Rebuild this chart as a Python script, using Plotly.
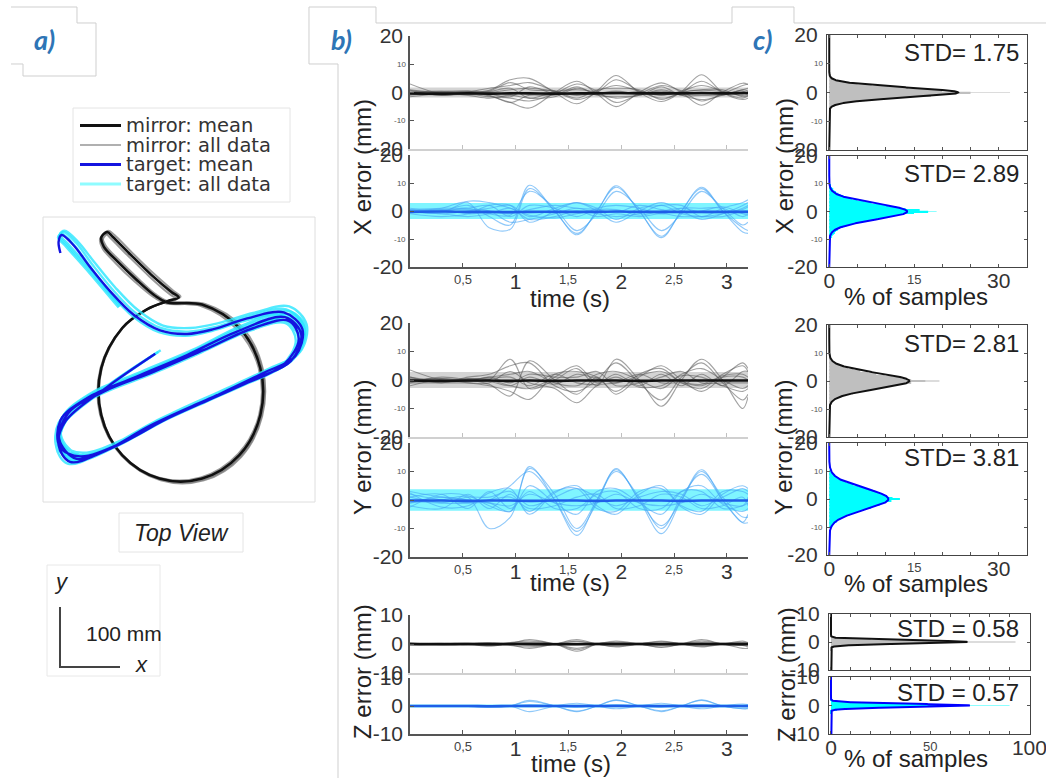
import numpy as np
import plotly.graph_objects as go

FIG_W, FIG_H = 1046, 778
FONT = "Liberation Sans, Arial, sans-serif"
LEGEND_FONT = "DejaVu Sans, Verdana, sans-serif"
TAG_FONT = "Lato, Liberation Sans, sans-serif"
TAG_COLOR = "#2e75b6"
FRAME_GREY = "#cfcfcf"

# ---------------- panel a: top-view hand paths (mm) ----------------
MIRROR_MEAN_X = [107, 97, 101, 124, 156, 185, 206, 265, 327, 362, 362, 327, 265, 194, 132, 97, 97, 132, 173, 208, 226, 214, 180, 143, 116, 107]
MIRROR_MEAN_Y = [450, 441, 426, 401, 370, 345, 333, 329, 290, 223, 145, 78, 39, 39, 78, 145, 223, 290, 321, 335, 341, 350, 379, 415, 442, 450]
MIRROR_TRIALS_X = [
    [109, 99, 104, 128, 160, 188, 210, 270, 332, 366, 365, 330, 268, 196, 133, 98, 98, 133, 175, 211, 229, 217, 183, 146, 119, 109],
    [104, 95, 99, 121, 153, 182, 204, 262, 323, 359, 360, 325, 263, 192, 130, 95, 96, 131, 171, 204, 222, 210, 177, 140, 113, 104],
    [110, 100, 102, 126, 158, 186, 207, 267, 329, 365, 364, 329, 266, 195, 131, 96, 97, 132, 172, 207, 225, 213, 181, 144, 117, 110],
]
MIRROR_TRIALS_Y = [
    [452, 444, 428, 402, 371, 346, 334, 330, 291, 222, 143, 75, 36, 36, 76, 144, 223, 291, 322, 336, 342, 352, 382, 418, 445, 452],
    [447, 438, 423, 398, 367, 343, 331, 327, 288, 224, 146, 80, 41, 41, 80, 146, 224, 289, 320, 333, 338, 347, 376, 412, 439, 447],
    [448, 439, 424, 399, 369, 344, 332, 327, 289, 222, 144, 76, 37, 38, 77, 145, 222, 289, 320, 334, 340, 349, 378, 414, 441, 448],
]
TARGET_MEAN_X = [29, 26, 31, 51, 78, 112, 151, 195, 240, 284, 340, 401, 432, 420, 367, 290, 212, 134, 62, 28,
                 29, 73, 156, 240, 323, 403, 430, 413, 356, 278, 201, 123, 56, 27, 42, 101, 184, 267, 351, 409,
                 426, 401, 334, 256, 178, 101, 45, 26, 37, 106, 187]
TARGET_MEAN_Y = [415, 434, 445, 428, 392, 351, 312, 286, 280, 288, 306, 316, 288, 243, 215, 178, 142, 100, 76, 92,
                 136, 173, 209, 245, 284, 308, 280, 235, 206, 171, 136, 94, 72, 105, 148, 184, 217, 253, 290, 302,
                 272, 229, 196, 163, 127, 84, 67, 95, 134, 191, 247]
TARGET_TRIALS_X = [
    [128, 80, 40, 27, 34, 55, 82, 115, 153, 196, 242, 288, 345, 405, 435, 424, 370, 292, 214, 136, 64, 30, 31, 76, 160, 244,
     327, 406, 434, 417, 359, 281, 203, 125, 58, 29, 44, 104, 188, 271, 355, 413, 431, 405, 337, 259, 180, 103, 47, 28, 40, 110, 192],
    [126, 78, 38, 25, 31, 52, 80, 112, 150, 193, 237, 281, 336, 396, 427, 415, 363, 286, 208, 130, 58, 24, 26, 70, 152, 236,
     318, 398, 425, 408, 352, 274, 197, 119, 52, 23, 38, 97, 180, 263, 346, 404, 421, 397, 330, 252, 174, 97, 41, 22, 34, 102, 183],
    [130, 82, 42, 28, 36, 58, 86, 120, 158, 200, 246, 292, 350, 410, 439, 428, 374, 296, 217, 139, 66, 31, 33, 79, 163, 248,
     331, 410, 438, 421, 362, 284, 206, 128, 61, 30, 46, 107, 191, 275, 359, 417, 435, 409, 341, 263, 184, 106, 50, 29, 42, 113, 196],
]
TARGET_TRIALS_Y = [
    [326, 383, 428, 443, 450, 432, 396, 355, 316, 290, 284, 292, 310, 321, 292, 246, 217, 180, 144, 102, 78, 94, 139, 177, 213, 249,
     289, 313, 285, 238, 208, 173, 138, 96, 74, 108, 152, 188, 221, 257, 294, 307, 276, 232, 198, 165, 129, 86, 69, 98, 138, 195, 250],
    [324, 381, 426, 441, 447, 428, 390, 348, 309, 283, 277, 285, 302, 312, 284, 239, 211, 175, 139, 97, 73, 89, 132, 169, 205, 241,
     280, 304, 276, 232, 203, 168, 133, 91, 69, 102, 144, 180, 213, 249, 286, 298, 269, 226, 193, 160, 124, 81, 64, 92, 130, 187, 244],
    [328, 385, 430, 446, 452, 434, 399, 358, 320, 294, 290, 298, 315, 326, 296, 250, 221, 185, 149, 107, 82, 97, 142, 181, 217, 253,
     294, 318, 290, 243, 212, 177, 142, 100, 78, 111, 156, 192, 225, 261, 298, 312, 281, 236, 202, 169, 133, 90, 73, 101, 141, 198, 253],
]

# ---------------- panel b: error vs time (mm) ----------------
T_KNOTS = [0, 0.3, 0.55, 0.75, 0.95, 1.13, 1.37, 1.58, 1.77, 1.95, 2.17, 2.38, 2.57, 2.76, 2.96, 3.15, 3.2]
T_END = 3.2

X_MIRROR_TRIALS = [
    [3.0, -0.5, 0.0, 0.8, 4.5, 5.0, 0.0, -4.0, 0.5, 6.0, 0.0, -3.2, 0.3, 6.3, 0.0, -2.5, -2.0],
    [-1.0, 0.3, 0.5, -1.2, -3.5, -5.5, 0.0, 4.0, -0.5, -5.0, 0.0, 3.4, 0.0, -4.5, 0.2, 3.3, 2.8],
    [0.8, -1.0, 0.2, 1.5, 2.5, 3.5, 0.5, -2.5, 0.0, 4.5, 0.5, -2.0, 0.0, 4.0, 0.0, -2.0, -1.2],
    [-0.5, -0.8, -0.6, -1.5, -2.0, -3.0, -0.5, 3.0, 0.5, -3.5, -0.5, 2.5, 0.5, -3.0, -0.5, 2.5, 3.0],
    [0.0, 0.5, 0.0, 0.0, 1.0, 1.5, 0.5, -1.0, 0.5, 2.5, 0.5, -1.0, 0.5, 2.5, 0.5, -1.0, -0.5],
    [-1.5, -0.5, -1.0, -2.0, -1.0, -2.0, -1.5, 1.5, -0.5, -2.0, -1.0, 1.0, -1.0, -2.5, -1.0, 1.0, 1.5],
    [1.0, 0.0, 0.5, 0.5, 3.5, 1.0, 0.5, -2.0, 1.0, 1.5, 1.0, -2.5, 0.0, 1.0, 1.0, -1.5, -1.0],
    [0.0, -1.0, -0.5, -1.0, -3.5, -1.0, -1.0, 2.0, -1.0, -1.5, -1.0, 2.0, -1.0, -1.0, -1.0, 1.0, 0.5],
    [0.5, 0.2, -0.3, 0.3, 1.5, -2.0, 0.3, 1.0, 0.2, -0.5, 0.3, -0.8, 0.2, 0.8, 0.3, -0.5, 0.2],
    [-0.3, -0.5, 0.3, -0.5, -1.5, 2.0, -0.5, -0.5, -0.3, 0.5, -0.5, 0.5, -0.5, -0.5, -0.5, 0.5, -0.5],
]
X_MIRROR_MEAN = [-0.3, -0.4, -0.3, -0.4, -0.3, -0.3, -0.4, -0.3, -0.3, -0.2, -0.3, -0.3, -0.3, -0.2, -0.3, -0.2, -0.2]

X_TARGET_TRIALS = [
    [0.5, 0.0, 2.0, -2.0, -5.0, 9.2, 0.0, -8.0, 0.0, 9.0, 0.0, -9.0, 0.0, 8.5, 0.0, -7.5, -8.0],
    [0.0, 1.0, 3.0, -6.0, -6.5, 8.0, 0.0, -8.5, 0.0, 8.5, 0.0, -9.5, 0.0, 8.0, 0.0, -6.0, -7.0],
    [1.0, 0.0, 1.0, -1.0, -1.5, 7.0, 1.0, -7.0, -1.0, 7.0, 1.0, -7.0, -1.0, 7.0, 1.0, -5.0, -4.0],
    [-1.0, -2.0, -1.0, 2.0, 2.0, -4.0, 0.0, 3.0, 0.0, -4.0, 0.0, 3.0, 0.0, -3.0, -1.0, 2.0, 3.0],
    [0.0, -1.0, 0.0, 1.0, 2.0, -2.0, 1.0, 3.0, 1.0, -3.0, 1.0, 2.0, 2.0, -2.0, 1.0, 3.0, 4.0],
    [0.0, 0.5, 0.5, 0.0, -4.0, -3.0, -1.0, 1.0, -1.0, -2.0, -1.0, 2.0, -1.0, -2.0, -1.0, 1.0, 2.0],
    [-0.5, -1.0, -2.0, -1.0, 1.0, -3.0, -2.0, 0.0, -2.0, -1.0, -2.0, -1.0, -2.0, -2.0, -2.0, 0.0, 0.0],
    [0.5, 1.0, 1.0, 2.0, -2.0, 2.0, 1.0, -2.0, 1.0, 2.0, 1.0, -1.0, 1.0, 1.0, 1.0, -2.0, -1.0],
    [0.0, -0.5, 3.5, 3.0, 1.0, -1.5, -2.5, -1.0, 0.5, 0.5, -1.5, 0.0, 1.0, -0.5, -0.5, 0.5, 1.5],
    [-0.5, 0.5, -1.0, -0.5, -1.0, 0.5, 2.0, 1.0, 0.5, -0.5, 2.0, 0.5, -0.5, 0.0, 1.5, -1.0, -1.5],
]
X_TARGET_MEAN = [-0.3, -0.2, -0.3, -0.3, -0.4, -0.3, -0.3, -0.3, -0.3, -0.2, -0.3, -0.3, -0.3, -0.3, -0.3, -0.3, -0.3]

Y_MIRROR_TRIALS = [
    [3.5, 0.0, 0.0, 0.0, 7.3, -3.0, 0.0, 4.0, -2.0, 7.3, 0.0, -9.2, 0.0, 7.3, 0.0, -10.0, -6.0],
    [-1.0, 1.0, 0.0, -1.5, -5.6, 6.7, 0.0, -5.0, 1.0, -5.0, 1.0, 5.0, 0.0, -4.0, 1.0, 6.0, 4.0],
    [1.0, -1.0, 1.0, 2.0, 5.0, 6.0, -2.0, -4.0, 0.0, 6.0, -1.0, -7.0, 1.0, 6.0, -1.0, -7.0, -5.0],
    [-2.0, 0.0, -1.0, -2.0, -4.0, -6.8, 2.0, 3.0, 1.0, -4.0, 2.0, 4.0, -1.0, -3.0, 2.0, 5.0, 3.0],
    [0.0, 0.5, 0.0, 1.0, 2.0, 3.0, -1.0, -2.0, 2.0, 3.0, 0.0, -3.0, 2.0, 4.0, 0.0, -3.0, -2.0],
    [1.0, -0.5, 0.5, 0.0, -2.0, -3.0, 1.0, 5.0, -1.0, 2.0, -2.0, 2.0, -2.0, 2.0, -2.0, 3.0, 3.0],
    [-1.0, -1.0, -1.0, -1.0, 3.0, -1.0, -3.0, -8.0, -2.0, -1.0, 2.0, -1.0, -1.0, -2.0, 1.0, 1.0, 0.0],
    [0.0, 0.0, -0.5, 1.0, -1.0, 2.0, 1.0, 1.0, 3.0, -2.0, -1.0, 1.0, 3.0, -1.0, -1.0, -1.0, -1.0],
    [0.5, -0.5, 0.5, 0.5, 1.0, -2.0, 2.0, -1.0, -1.5, 1.0, -2.5, -2.0, 1.5, 1.0, -2.0, -4.0, -3.0],
    [-0.5, 0.5, -0.5, -0.5, -2.0, 1.0, -1.5, 2.0, 0.5, -1.0, 1.5, 3.0, -0.5, -1.5, 1.5, 2.0, 1.0],
]
Y_MIRROR_MEAN = [-0.2, -0.3, -0.2, -0.2, -0.3, -0.2, -0.3, -0.2, -0.2, -0.2, -0.3, -0.2, -0.2, -0.2, -0.2, -0.2, -0.2]

Y_TARGET_TRIALS = [
    [2.0, 0.0, -1.0, -1.0, -4.0, 11.7, 0.0, -12.4, 0.0, 10.6, 0.0, -11.8, 0.0, 10.6, 0.0, -7.8, -5.0],
    [-1.0, 0.0, 1.0, -10.0, -6.0, 11.0, 2.0, -10.0, 0.0, 10.0, 1.0, -10.0, 1.0, 9.0, 0.0, -8.0, -8.0],
    [3.0, 1.0, 0.0, 0.0, 5.0, 10.0, 0.0, -11.0, -1.0, 11.0, 0.0, -9.0, 0.0, 10.0, 1.0, -6.0, -6.0],
    [-2.0, -3.0, 2.0, -3.0, 2.0, -4.0, 3.0, 4.0, -3.0, -4.0, 3.0, 4.0, -2.0, -4.0, 3.0, 3.0, 2.0],
    [1.0, 2.0, -3.0, 3.0, -3.0, 3.0, -3.0, -3.0, 2.0, 3.0, -3.0, -3.0, 3.0, 3.0, -3.0, -2.0, -1.0],
    [0.0, -1.0, 1.0, 1.0, 3.0, -2.0, 1.0, 4.0, 1.0, -2.0, 1.0, 3.0, 2.0, -2.0, 1.0, 4.0, 3.0],
    [-1.0, 1.0, 0.0, -1.0, -2.0, 2.0, -1.0, -2.0, -1.0, 2.0, -1.0, -2.0, -1.0, 2.0, -1.0, -2.0, 1.0],
    [1.0, -1.0, -1.0, 0.0, 1.0, -3.0, -2.0, 1.0, 2.0, -3.0, -2.0, 2.0, 1.0, -3.0, -2.0, 1.0, -2.0],
    [-2.5, 2.0, 1.5, -2.0, -4.0, 5.0, -1.0, -5.0, 3.0, 4.0, -1.0, -5.0, 3.0, 5.0, -1.5, -4.0, -3.0],
    [2.5, -2.5, -2.0, 2.5, 4.0, -5.0, 2.5, 5.0, -2.0, -5.0, 2.0, 5.0, -2.5, -5.0, 2.0, 5.0, 4.0],
]
Y_TARGET_MEAN = [-0.2, -0.2, -0.3, -0.2, -0.2, -0.3, -0.2, -0.2, -0.3, -0.2, -0.2, -0.2, -0.3, -0.2, -0.2, -0.2, -0.2]

Z_MIRROR_TRIALS = [
    [0.3, 0.0, 0.0, -0.5, 0.2, 1.5, 0.0, -1.5, 0.0, 1.0, 0.0, -1.2, 0.0, 1.5, 0.0, -0.5, -1.0],
    [0.0, 0.3, -0.3, 0.3, -0.5, -1.0, 0.0, 1.5, 0.0, -0.8, 0.0, 0.8, 0.0, -0.8, 0.0, 0.5, 0.5],
    [-0.3, 0.0, 0.2, -0.5, 0.5, 1.0, 0.0, -2.5, 0.0, 0.6, 0.0, -1.0, 0.0, 1.0, 0.0, -1.5, -1.5],
    [0.2, -0.2, 0.0, 0.5, -0.3, -1.5, 0.0, 1.0, 0.0, -1.0, 0.0, 1.0, 0.0, -1.0, 0.0, 1.0, 0.5],
    [0.0, 0.0, 0.0, -0.8, 0.3, 0.5, 0.0, -2.0, 0.0, 0.3, 0.0, -0.4, 0.0, 0.5, 0.0, -0.3, -0.2],
    [0.0, 0.0, 0.0, 0.3, 0.0, -0.5, 0.0, 0.8, 0.0, -0.5, 0.0, 0.5, 0.0, -0.5, 0.0, 0.5, 0.3],
]
Z_MIRROR_MEAN = [0.0, -0.1, 0.0, -0.1, 0.0, 0.0, -0.1, -0.1, 0.0, 0.0, 0.0, -0.1, 0.0, 0.0, 0.0, -0.1, -0.1]

Z_TARGET_TRIALS = [
    [0.0, 0.0, 0.0, -0.3, 0.0, 2.0, 0.0, -2.0, 0.0, 2.0, 0.0, -2.0, 0.0, 2.0, 0.0, -1.0, -1.0],
    [0.0, 0.0, 0.0, -0.5, 0.0, 1.6, 0.0, -1.8, 0.0, 2.2, 0.0, -1.7, 0.0, 2.2, 0.0, -1.0, -0.8],
    [0.0, 0.0, 0.0, 0.0, 0.0, -2.0, 0.0, 1.0, 0.0, -1.0, 0.0, 1.0, 0.0, -1.0, 0.0, 0.7, 0.5],
    [0.0, 0.0, 0.0, 0.0, 0.0, 0.5, 0.0, -0.5, 0.0, 0.5, 0.0, -0.5, 0.0, 0.5, 0.0, -0.3, -0.3],
]
Z_TARGET_MEAN = [0.0, 0.0, 0.0, -0.1, 0.0, 0.0, 0.0, 0.0, 0.0, 0.0, 0.0, 0.0, 0.0, 0.0, 0.0, 0.0, 0.0]

# ---------------- panel c: error distributions (% of samples) ----------------
STD_X_MIRROR, STD_X_TARGET = 1.75, 2.89
STD_Y_MIRROR, STD_Y_TARGET = 2.81, 3.81
STD_Z_MIRROR, STD_Z_TARGET = 0.58, 0.57

XY_BIN_WIDTH, Z_BIN_WIDTH = 0.5, 0.25
XY_BINS = np.round(np.arange(-10, 10.001, XY_BIN_WIDTH), 2)
Z_BINS = np.round(np.arange(-3, 3.001, Z_BIN_WIDTH), 2)

X_MIRROR_HIST = [0, 0, 0, 0, 0, 0, 0.1, 0.1, 0.2, 0.3, 0.5, 0.9, 1.6, 2.8, 4.8, 7.5, 11, 14.5, 18, 20.5, 25,
                 20, 17.5, 14, 10.5, 7.5, 5, 3, 1.7, 0.9, 0.5, 0.3, 0.2, 0.1, 0.1, 0, 0, 0, 0, 0, 0]
X_TARGET_HIST = [0.2, 0.3, 0.5, 0.6, 0.8, 1.0, 1.2, 1.5, 1.9, 2.4, 3.0, 3.8, 4.8, 5.8, 7.0, 8.5, 10, 11.5, 13, 15, 17.5,
                 16, 13.5, 12, 10.5, 9, 7.5, 6.2, 5.0, 4.0, 3.2, 2.5, 2.0, 1.6, 1.2, 0.9, 0.7, 0.5, 0.3, 0.2, 0.1]
Y_MIRROR_HIST = [0.1, 0.1, 0.2, 0.3, 0.4, 0.6, 0.8, 1.1, 1.5, 2.1, 2.8, 3.7, 4.8, 6.0, 7.4, 8.8, 10.2, 11.6, 13, 14.5, 17,
                 14.5, 12.8, 11.2, 9.8, 8.3, 6.8, 5.5, 4.3, 3.3, 2.5, 1.8, 1.3, 0.9, 0.6, 0.4, 0.3, 0.2, 0.1, 0.1, 0.1]
Y_TARGET_HIST = [0.5, 0.6, 0.8, 1.0, 1.3, 1.6, 2.0, 2.5, 3.0, 3.6, 4.3, 5.0, 5.8, 6.6, 7.4, 8.2, 8.9, 9.5, 10.0, 11, 12.5,
                 11.2, 10.2, 9.6, 9.0, 8.3, 7.5, 6.7, 5.9, 5.1, 4.3, 3.6, 3.0, 2.4, 1.9, 1.5, 1.2, 0.9, 0.7, 0.5, 0.4]
Z_MIRROR_HIST = [0, 0.1, 0.2, 0.3, 0.6, 1.2, 2.5, 5, 10, 20, 35, 50, 65, 50, 35, 20, 10, 5, 2.5, 1.2, 0.6, 0.3, 0.2, 0.1, 0]
Z_TARGET_HIST = [0, 0.1, 0.2, 0.4, 0.8, 1.5, 3, 6, 11, 21, 36, 52, 68, 51, 35, 20, 10, 5, 2.5, 1.2, 0.6, 0.3, 0.2, 0.1, 0]
PEAK_BIN = {"x_mirror": 32, "x_target": 19, "y_mirror": 19.5, "y_target": 12.5, "z_mirror": 93, "z_target": 90}

STYLE = {
    "mirror": dict(trial="rgba(85,85,85,0.55)", mean="#111111", band="rgba(160,160,160,0.45)",
                   bar="#bfbfbf", peak="#dcdcdc", fit="#111111"),
    "target": dict(trial="rgba(70,165,245,0.6)", mean="#1f5ee8", band="rgba(0,235,255,0.5)",
                   bar="#00ffff", peak="#8cffff", fit="#0000ff"),
}


def axis_key(kind, idx):
    return f"{kind}axis" if idx == 1 else f"{kind}axis{idx}"


def ref(kind, idx):
    return kind if idx == 1 else f"{kind}{idx}"


fig = go.Figure()
layout_axes, annotations, shapes = {}, [], []


def set_axes(idx, xpx, ypx, xr, yr, xstyle, ystyle):
    layout_axes[axis_key("x", idx)] = dict(domain=[xpx[0] / FIG_W, xpx[1] / FIG_W], range=xr, automargin=False,
                                           anchor=ref("y", idx), **xstyle)
    layout_axes[axis_key("y", idx)] = dict(domain=[1 - ypx[1] / FIG_H, 1 - ypx[0] / FIG_H], range=yr, automargin=False,
                                           anchor=ref("x", idx), **ystyle)


def note(text, x, y, size, color="#222222", family=FONT, xanchor="center", yanchor="middle", angle=0):
    annotations.append(dict(text=text, x=x / FIG_W, y=1 - y / FIG_H, xref="paper", yref="paper",
                            xanchor=xanchor, yanchor=yanchor, showarrow=False, textangle=angle,
                            font=dict(family=family, size=size, color=color)))


def small_ytick(idx, val, text):
    annotations.append(dict(text=text, xref=f"{ref('x', idx)} domain", x=0, xanchor="right", xshift=-2,
                            yref=ref("y", idx), y=val, yanchor="middle", showarrow=False,
                            font=dict(family=FONT, size=8, color="#555555")))


def small_xtick(idx, val, text):
    annotations.append(dict(text=text, xref=ref("x", idx), x=val, yref=f"{ref('y', idx)} domain", y=0,
                            yanchor="top", yshift=-3, showarrow=False,
                            font=dict(family=FONT, size=13, color="#444444")))


def px_path(points):
    return "M " + " L ".join(f"{x / FIG_W:.5f},{1 - y / FIG_H:.5f}" for x, y in points)


def frame_line(points, color=FRAME_GREY, width=1):
    shapes.append(dict(type="path", path=px_path(points), xref="paper", yref="paper",
                       line=dict(color=color, width=width)))


def frame_rect(x0, y0, x1, y1, color="#dedede"):
    shapes.append(dict(type="rect", xref="paper", yref="paper", x0=x0 / FIG_W, x1=x1 / FIG_W,
                       y0=1 - y1 / FIG_H, y1=1 - y0 / FIG_H, line=dict(color=color, width=1)))


# ---------- panel a ----------
hidden = dict(visible=False, showgrid=False, zeroline=False)
set_axes(1, (43, 315), (217, 502), [0, 453], [0, 475], hidden, hidden)
for tx, ty in zip(MIRROR_TRIALS_X, MIRROR_TRIALS_Y):
    fig.add_trace(go.Scatter(x=tx, y=ty, mode="lines", xaxis="x", yaxis="y",
                             line=dict(color="rgba(120,120,120,0.75)", width=2, shape="spline", smoothing=1)))
fig.add_trace(go.Scatter(x=MIRROR_MEAN_X, y=MIRROR_MEAN_Y, mode="lines", xaxis="x", yaxis="y",
                         line=dict(color="#111111", width=2.6, shape="spline", smoothing=1)))
for tx, ty in zip(TARGET_TRIALS_X, TARGET_TRIALS_Y):
    fig.add_trace(go.Scatter(x=tx, y=ty, mode="lines", xaxis="x", yaxis="y",
                             line=dict(color="rgba(40,230,255,0.8)", width=2.4, shape="spline", smoothing=1)))
fig.add_trace(go.Scatter(x=TARGET_MEAN_X, y=TARGET_MEAN_Y, mode="lines", xaxis="x", yaxis="y",
                         line=dict(color="#1414e0", width=2.4, shape="spline", smoothing=1)))
frame_rect(43, 217, 315, 502)

# legend
frame_rect(73, 108, 290, 202, "#e4e4e4")
LEGEND_ROWS = [("mirror: mean", "#111111", 3), ("mirror: all data", "#b0b0b0", 2),
               ("target: mean", "#1414e0", 3), ("target: all data", "#8ffcff", 3)]
for k, (label, col, lw) in enumerate(LEGEND_ROWS):
    yy = 125.5 + 19.5 * k
    shapes.append(dict(type="line", xref="paper", yref="paper", x0=80 / FIG_W, x1=121 / FIG_W,
                       y0=1 - yy / FIG_H, y1=1 - yy / FIG_H, line=dict(color=col, width=lw)))
    note(label, 124, yy, 19.5, color="#333333", family=LEGEND_FONT, xanchor="left")

frame_rect(119, 513, 243, 552, "#e4e4e4")
note("<i>Top View</i>", 181, 533, 23, color="#222222")
frame_rect(47, 565, 160, 676, "#e8e8e8")
frame_line([(60, 607), (60, 667), (120, 667)], color="#444444", width=2)
note("<i>y</i>", 61, 581, 22)
note("<i>x</i>", 141, 664, 22)
note("100 mm", 124, 633, 21)

# ---------- panel b ----------
B_X_TICKS = [0.5, 1, 1.5, 2, 2.5, 3]
B_X_BIG = ["", "1", "", "2", "", "3"]
B_X_SMALL = [(0.5, "0,5"), (1.5, "1,5"), (2.5, "2,5")]
XY_Y_TICKS = [-20, -10, 0, 10, 20]
XY_Y_BIG = ["-20", "", "0", "", "20"]
XY_Y_SMALL = [(-10, "-10"), (10, "10")]
Z_Y_TICKS = [-10, 0, 10]
Z_Y_BIG = ["-10", "0", "10"]

B_PANELS = [
    (2, (36, 149), X_MIRROR_TRIALS, X_MIRROR_MEAN, STD_X_MIRROR, "mirror", 20, False),
    (3, (155, 267), X_TARGET_TRIALS, X_TARGET_MEAN, STD_X_TARGET, "target", 20, True),
    (4, (323, 437), Y_MIRROR_TRIALS, Y_MIRROR_MEAN, STD_Y_MIRROR, "mirror", 20, False),
    (5, (443, 557), Y_TARGET_TRIALS, Y_TARGET_MEAN, STD_Y_TARGET, "target", 20, True),
    (6, (615, 673), Z_MIRROR_TRIALS, Z_MIRROR_MEAN, STD_Z_MIRROR, "mirror", 10, False),
    (7, (678, 734), Z_TARGET_TRIALS, Z_TARGET_MEAN, STD_Z_TARGET, "target", 10, True),
]

for idx, ypx, trials, mean, std, kind, lim, bottom in B_PANELS:
    st = STYLE[kind]
    xs = dict(showgrid=False, zeroline=False, showline=True, linewidth=1.5, ticks="inside", ticklen=4,
              tickvals=B_X_TICKS, ticktext=B_X_BIG, tickfont=dict(family=FONT, size=21, color="#333333"),
              ticklabelstandoff=-5)
    if bottom:
        xs.update(linecolor="#555555", tickcolor="#555555", showticklabels=True)
    else:
        xs.update(linecolor="#d0d0d0", tickcolor="#c0c0c0", showticklabels=False)
    ys = dict(showgrid=False, zeroline=False, showline=True, linecolor="#555555", linewidth=1.5,
              ticks="inside", ticklen=4, tickcolor="#555555",
              tickvals=XY_Y_TICKS if lim == 20 else Z_Y_TICKS,
              ticktext=XY_Y_BIG if lim == 20 else Z_Y_BIG,
              tickfont=dict(family=FONT, size=21, color="#333333"), ticklabelstandoff=1)
    set_axes(idx, (410, 748), ypx, [0, T_END], [-lim, lim], xs, ys)
    xa, ya = ref("x", idx), ref("y", idx)
    fig.add_trace(go.Scatter(x=[0, T_END], y=[std, std], mode="lines", line=dict(width=0),
                             xaxis=xa, yaxis=ya, hoverinfo="skip"))
    fig.add_trace(go.Scatter(x=[0, T_END], y=[-std, -std], mode="lines", line=dict(width=0),
                             fill="tonexty", fillcolor=st["band"], xaxis=xa, yaxis=ya, hoverinfo="skip"))
    for tr in trials:
        fig.add_trace(go.Scatter(x=T_KNOTS, y=tr, mode="lines", xaxis=xa, yaxis=ya,
                                 line=dict(color=st["trial"], width=1.1, shape="spline", smoothing=1)))
    fig.add_trace(go.Scatter(x=T_KNOTS, y=mean, mode="lines", xaxis=xa, yaxis=ya,
                             line=dict(color=st["mean"], width=2.6, shape="spline", smoothing=1)))
    if lim == 20:
        for v, t in XY_Y_SMALL:
            small_ytick(idx, v, t)
    if bottom:
        for v, t in B_X_SMALL:
            small_xtick(idx, v, t)

note("X error (mm)", 363, 167, 24, angle=-90)
note("Y error (mm)", 363, 447, 24, angle=-90)
note("Z error (mm)", 362, 672, 24, angle=-90)
note("time (s)", 570, 298, 24)
note("time (s)", 570, 582, 24)
note("time (s)", 571, 763, 24)

# ---------- panel c ----------
FIT_GRID = np.linspace(-20, 20, 4001)
C_XY_X_TICKS = [0, 5, 10, 15, 20, 25, 30, 35]
C_XY_X_BIG = ["0", "", "", "", "", "", "30", ""]
C_Z_X_TICKS = [0, 10, 20, 30, 40, 50, 60, 70, 80, 90, 100]
C_Z_X_BIG = ["0", "", "", "", "", "", "", "", "", "", "100"]

C_PANELS = [
    (8, (827, 1027), (35, 150), X_MIRROR_HIST, "x_mirror", STD_X_MIRROR, "mirror", 20, False, 53),
    (9, (827, 1027), (156, 267), X_TARGET_HIST, "x_target", STD_X_TARGET, "target", 20, True, 173),
    (10, (827, 1027), (325, 437), Y_MIRROR_HIST, "y_mirror", STD_Y_MIRROR, "mirror", 20, False, 343),
    (11, (827, 1027), (443, 555), Y_TARGET_HIST, "y_target", STD_Y_TARGET, "target", 20, True, 457),
    (12, (829, 1030), (614, 670), Z_MIRROR_HIST, "z_mirror", STD_Z_MIRROR, "mirror", 10, False, 628),
    (13, (829, 1030), (677, 734), Z_TARGET_HIST, "z_target", STD_Z_TARGET, "target", 10, True, 692),
]

for idx, xpx, ypx, hist, key, std, kind, lim, bottom, label_y in C_PANELS:
    st = STYLE[kind]
    is_xy = lim == 20
    xs = dict(showgrid=False, zeroline=False, showline=True, mirror="ticks", linecolor="#444444", linewidth=1.2,
              ticks="inside", ticklen=3, tickcolor="#555555",
              tickvals=C_XY_X_TICKS if is_xy else C_Z_X_TICKS,
              ticktext=C_XY_X_BIG if is_xy else C_Z_X_BIG,
              tickfont=dict(family=FONT, size=21, color="#333333"), ticklabelstandoff=-5,
              ticklabeloverflow="allow", showticklabels=bottom)
    ys = dict(showgrid=False, zeroline=False, showline=True, mirror="ticks", linecolor="#444444", linewidth=1.2,
              ticks="inside", ticklen=3, tickcolor="#555555",
              tickvals=XY_Y_TICKS if is_xy else Z_Y_TICKS,
              ticktext=XY_Y_BIG if is_xy else Z_Y_BIG,
              tickfont=dict(family=FONT, size=21, color="#333333"), ticklabelstandoff=4)
    set_axes(idx, xpx, ypx, [-0.4, 35] if is_xy else [-1, 100.3], [-lim, lim], xs, ys)
    xa, ya = ref("x", idx), ref("y", idx)
    bins = XY_BINS if is_xy else Z_BINS
    width = XY_BIN_WIDTH if is_xy else Z_BIN_WIDTH
    fig.add_trace(go.Bar(x=[PEAK_BIN[key]], y=[0], orientation="h", width=width * 0.6,
                         marker=dict(color=st["peak"], line=dict(width=0)), xaxis=xa, yaxis=ya))
    fig.add_trace(go.Bar(x=hist, y=bins, orientation="h", width=width,
                         marker=dict(color=st["bar"], line=dict(width=0)), xaxis=xa, yaxis=ya))
    # normal fit drawn from the reported standard deviation (% of samples per mm)
    fit = 100.0 / (std * np.sqrt(2 * np.pi)) * np.exp(-0.5 * (FIT_GRID / std) ** 2)
    fig.add_trace(go.Scatter(x=fit, y=FIT_GRID, mode="lines", xaxis=xa, yaxis=ya,
                             line=dict(color=st["fit"], width=2)))
    if is_xy:
        for v, t in XY_Y_SMALL:
            small_ytick(idx, v, t)
    if bottom:
        small_xtick(idx, 15 if is_xy else 50, "15" if is_xy else "50")
    sep = "= " if is_xy else " = "
    note(f"STD{sep}{std:.2f}", 1021, label_y, 24, xanchor="right")

note("X error (mm)", 784, 166, 24, angle=-90)
note("Y error (mm)", 784, 447, 24, angle=-90)
note("Z error (mm)", 786, 675, 24, angle=-90)
note("% of samples", 916, 296, 24)
note("% of samples", 916, 583, 24)
note("% of samples", 916, 758, 24)

# ---------- panel tags and frames ----------
frame_line([(11, 7), (77, 7), (77, 23), (96, 23), (96, 76), (23, 76), (23, 64), (11, 64)])
frame_line([(732, 23), (376, 23), (376, 7), (309, 7), (309, 64), (338, 64), (338, 778)])
frame_line([(732, 23), (732, 7), (794, 7), (794, 23), (1046, 23)])
note("<b><i>a)</i></b>", 44, 39, 27, color=TAG_COLOR, family=TAG_FONT)
note("<b><i>b)</i></b>", 341, 39, 27, color=TAG_COLOR, family=TAG_FONT)
note("<b><i>c)</i></b>", 762, 39, 27, color=TAG_COLOR, family=TAG_FONT)

fig.update_layout(
    width=FIG_W, height=FIG_H, margin=dict(l=0, r=0, t=0, b=0, autoexpand=False),
    paper_bgcolor="white", plot_bgcolor="rgba(0,0,0,0)",
    showlegend=False, barmode="overlay", hovermode=False,
    annotations=annotations, shapes=shapes, **layout_axes,
)
fig.write_html("out.html")
